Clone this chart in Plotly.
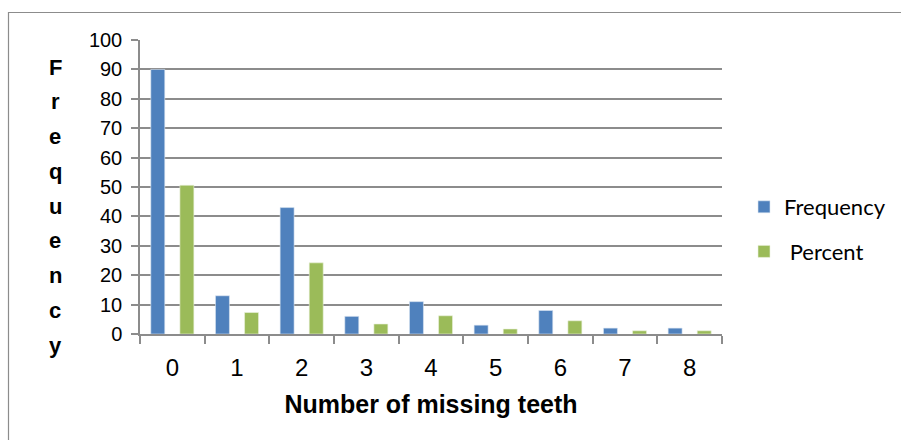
import plotly.graph_objects as go

# Number of missing teeth per person, with counts and percentages
categories = ["0", "1", "2", "3", "4", "5", "6", "7", "8"]
frequency = [90, 13, 43, 6, 11, 3, 8, 2, 2]
percent = [50.6, 7.3, 24.2, 3.4, 6.2, 1.7, 4.5, 1.1, 1.1]
y_title = "Frequency"
x_title = "Number of missing teeth"

BLUE = "#4F81BD"
GREEN = "#9BBB59"
GRID = "#8C8C8C"
SANS = "Liberation Sans, Arial, sans-serif"

fig = go.Figure()
fig.add_trace(go.Bar(x=categories, y=frequency, name="Frequency", legendgroup="f",
                     marker=dict(color=BLUE, line=dict(color="#DCE6F2", width=0.6))))
fig.add_trace(go.Bar(x=categories, y=percent, name=" Percent", legendgroup="p",
                     marker=dict(color=GREEN, line=dict(color="#EBF1DE", width=0.6))))

L, R, T, B = 140, 901 - 722, 40, 440 - 334
W, H = 901 - L - R, 440 - T - B

fig.update_layout(
    width=901, height=440,
    margin=dict(l=L, r=R, t=T, b=B, autoexpand=False),
    paper_bgcolor="white", plot_bgcolor="white",
    barmode="group", bargap=0.1, bargroupgap=0.52,
    font=dict(family=SANS, color="black"),
    showlegend=True,
    legend=dict(x=(744 - L) / W, y=(334 - 186) / H, xanchor="left", yanchor="top",
                font=dict(family="Lato, Open Sans, sans-serif", size=22, color="black"),
                tracegroupgap=13, itemwidth=30, bgcolor="rgba(0,0,0,0)"),
)

fig.update_yaxes(
    range=[0, 100], dtick=10, tick0=0,
    showgrid=True, gridcolor=GRID, gridwidth=1.5,
    showline=True, linecolor=GRID, linewidth=1.5,
    ticks="outside", ticklen=7, tickcolor=GRID, tickwidth=1.5,
    tickfont=dict(size=20, family=SANS),
    ticklabelstandoff=5, zeroline=False,
)
fig.update_xaxes(
    type="category", range=[-0.5, 8.5],
    showline=True, linecolor=GRID, linewidth=1.5,
    ticks="outside", tickson="boundaries", ticklen=8, tickcolor=GRID, tickwidth=1.5,
    tickfont=dict(size=24, family=SANS),
    ticklabelstandoff=11,
    title=dict(text="<b>" + x_title + "</b>", standoff=16,
               font=dict(size=25, family=SANS)),
)

# Vertical axis title with letters stacked one above the other
top_y, step = 67, 34.75
for i, ch in enumerate(y_title):
    fig.add_annotation(
        x=(55 - L) / W, y=(334 - (top_y + i * step)) / H,
        xref="paper", yref="paper", text="<b>" + ch + "</b>", showarrow=False,
        font=dict(size=22, family=SANS, color="black"),
        xanchor="center", yanchor="middle",
    )

# Outer chart frame
fig.add_shape(type="rect", xref="paper", yref="paper",
              x0=(8.5 - L) / W, x1=(920 - L) / W,
              y0=(334 - 460) / H, y1=(334 - 12.5) / H,
              line=dict(color="#8C8C8C", width=1.2), layer="below")

fig.write_html("out.html")
